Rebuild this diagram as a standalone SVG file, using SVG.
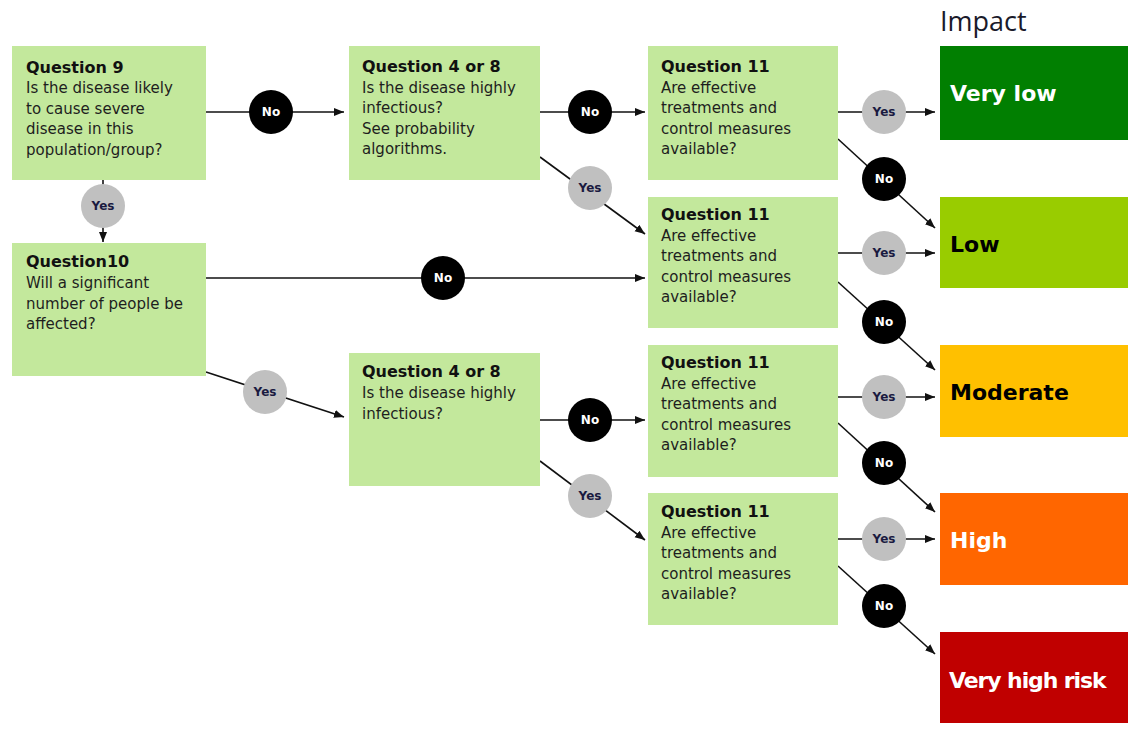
<svg xmlns="http://www.w3.org/2000/svg" width="1128" height="731" viewBox="0 0 1128 731">
<style>
.q{fill:#c3e89c}
.t{font-family:"DejaVu Sans",Verdana,sans-serif;font-size:15px;fill:#1e1e1e}
.tb{font-family:"DejaVu Sans",Verdana,sans-serif;font-size:16px;font-weight:bold;fill:#111}
.imp{font-family:"DejaVu Sans",Verdana,sans-serif;font-weight:bold;font-size:22px}
.ln{stroke:#111;stroke-width:1.6;fill:none}
.no{fill:#000}
.yes{fill:#c0c0c0}
.lno{font-family:"DejaVu Sans",Verdana,sans-serif;font-size:12px;font-weight:bold;fill:#fff;text-anchor:middle}
.lyes{font-family:"DejaVu Sans",Verdana,sans-serif;font-size:12px;font-weight:bold;fill:#1a1a40;text-anchor:middle}
</style>
<defs>
<marker id="ar" markerUnits="userSpaceOnUse" markerWidth="10" markerHeight="10" viewBox="0 0 10 10" refX="10" refY="5" orient="auto">
<path d="M0,1 L10,5 L0,9 Z" fill="#111"/>
</marker>
</defs>
<rect width="1128" height="731" fill="#fff"/>
<text x="940" y="31" font-family="'Open Sans','DejaVu Sans',sans-serif" font-size="27" fill="#1a1a2a">Impact</text>

<g id="connectors">
<line class="ln" x1="206" y1="112" x2="344" y2="112" marker-end="url(#ar)"/>
<line class="ln" x1="103" y1="180" x2="103" y2="242" marker-end="url(#ar)"/>
<line class="ln" x1="206" y1="278" x2="645" y2="278" marker-end="url(#ar)"/>
<line class="ln" x1="206" y1="372" x2="344" y2="417" marker-end="url(#ar)"/>
<line class="ln" x1="540" y1="112" x2="645" y2="112" marker-end="url(#ar)"/>
<line class="ln" x1="540" y1="157" x2="645" y2="234" marker-end="url(#ar)"/>
<line class="ln" x1="540" y1="420" x2="645" y2="420" marker-end="url(#ar)"/>
<line class="ln" x1="540" y1="461" x2="645" y2="540" marker-end="url(#ar)"/>
<line class="ln" x1="838" y1="112" x2="935" y2="112" marker-end="url(#ar)"/>
<line class="ln" x1="838" y1="139" x2="935" y2="228" marker-end="url(#ar)"/>
<line class="ln" x1="838" y1="253" x2="935" y2="253" marker-end="url(#ar)"/>
<line class="ln" x1="838" y1="282" x2="935" y2="370" marker-end="url(#ar)"/>
<line class="ln" x1="838" y1="397" x2="935" y2="397" marker-end="url(#ar)"/>
<line class="ln" x1="838" y1="423" x2="935" y2="512" marker-end="url(#ar)"/>
<line class="ln" x1="838" y1="539" x2="935" y2="539" marker-end="url(#ar)"/>
<line class="ln" x1="838" y1="566" x2="935" y2="654" marker-end="url(#ar)"/>

<circle class="no" cx="271" cy="112" r="22"/><text class="lno" x="271" y="116">No</text>
<circle class="yes" cx="103" cy="206" r="22"/><text class="lyes" x="103" y="210">Yes</text>
<circle class="no" cx="443" cy="278" r="22"/><text class="lno" x="443" y="282">No</text>
<circle class="yes" cx="265" cy="392" r="22"/><text class="lyes" x="265" y="396">Yes</text>
<circle class="no" cx="590" cy="112" r="22"/><text class="lno" x="590" y="116">No</text>
<circle class="yes" cx="590" cy="188" r="22"/><text class="lyes" x="590" y="192">Yes</text>
<circle class="no" cx="590" cy="420" r="22"/><text class="lno" x="590" y="424">No</text>
<circle class="yes" cx="590" cy="496" r="22"/><text class="lyes" x="590" y="500">Yes</text>
<circle class="yes" cx="884" cy="112" r="22"/><text class="lyes" x="884" y="116">Yes</text>
<circle class="no" cx="884" cy="179" r="22"/><text class="lno" x="884" y="183">No</text>
<circle class="yes" cx="884" cy="253" r="22"/><text class="lyes" x="884" y="257">Yes</text>
<circle class="no" cx="884" cy="322" r="22"/><text class="lno" x="884" y="326">No</text>
<circle class="yes" cx="884" cy="397" r="22"/><text class="lyes" x="884" y="401">Yes</text>
<circle class="no" cx="884" cy="463" r="22"/><text class="lno" x="884" y="467">No</text>
<circle class="yes" cx="884" cy="539" r="22"/><text class="lyes" x="884" y="543">Yes</text>
<circle class="no" cx="884" cy="606" r="22"/><text class="lno" x="884" y="610">No</text>
</g>

<g id="q9">
<rect class="q" x="12" y="46" width="194" height="134"/>
<text class="tb" x="26" y="73">Question 9</text>
<text class="t" x="26" y="93">Is the disease likely</text>
<text class="t" x="26" y="113.5">to cause severe</text>
<text class="t" x="26" y="134">disease in this</text>
<text class="t" x="26" y="154.5">population/group?</text>
</g>

<g id="q10">
<rect class="q" x="12" y="243" width="194" height="133"/>
<text class="tb" x="26" y="267">Question10</text>
<text class="t" x="26" y="288">Will a significant</text>
<text class="t" x="26" y="308.5">number of people be</text>
<text class="t" x="26" y="329">affected?</text>
</g>

<g id="q48a">
<rect class="q" x="349" y="46" width="191" height="134"/>
<text class="tb" x="362" y="72">Question 4 or 8</text>
<text class="t" x="362" y="92.5">Is the disease highly</text>
<text class="t" x="362" y="113">infectious?</text>
<text class="t" x="362" y="133.5">See probability</text>
<text class="t" x="362" y="154">algorithms.</text>
</g>

<g id="q48b">
<rect class="q" x="349" y="353" width="191" height="133"/>
<text class="tb" x="362" y="377">Question 4 or 8</text>
<text class="t" x="362" y="398">Is the disease highly</text>
<text class="t" x="362" y="418.5">infectious?</text>
</g>

<g id="q11a">
<rect class="q" x="648" y="46" width="190" height="134"/>
<text class="tb" x="661" y="72">Question 11</text>
<text class="t" x="661" y="92.5">Are effective</text>
<text class="t" x="661" y="113">treatments and</text>
<text class="t" x="661" y="133.5">control measures</text>
<text class="t" x="661" y="154">available?</text>
</g>

<g id="q11b">
<rect class="q" x="648" y="197" width="190" height="131"/>
<text class="tb" x="661" y="220">Question 11</text>
<text class="t" x="661" y="240.5">Are effective</text>
<text class="t" x="661" y="261">treatments and</text>
<text class="t" x="661" y="281.5">control measures</text>
<text class="t" x="661" y="302">available?</text>
</g>

<g id="q11c">
<rect class="q" x="648" y="345" width="190" height="132"/>
<text class="tb" x="661" y="368">Question 11</text>
<text class="t" x="661" y="388.5">Are effective</text>
<text class="t" x="661" y="409">treatments and</text>
<text class="t" x="661" y="429.5">control measures</text>
<text class="t" x="661" y="450">available?</text>
</g>

<g id="q11d">
<rect class="q" x="648" y="493" width="190" height="132"/>
<text class="tb" x="661" y="517">Question 11</text>
<text class="t" x="661" y="537.5">Are effective</text>
<text class="t" x="661" y="558">treatments and</text>
<text class="t" x="661" y="578.5">control measures</text>
<text class="t" x="661" y="599">available?</text>
</g>

<g id="verylow">
<rect x="940" y="46" width="188" height="94" fill="#017f01"/>
<text class="imp" x="950" y="101" fill="#fff">Very low</text>
</g>
<g id="low">
<rect x="940" y="197" width="188" height="91" fill="#99cc00"/>
<text class="imp" x="950" y="252" fill="#000">Low</text>
</g>
<g id="moderate">
<rect x="940" y="345" width="188" height="92" fill="#ffc000"/>
<text class="imp" x="950" y="400" fill="#000">Moderate</text>
</g>
<g id="high">
<rect x="940" y="493" width="188" height="92" fill="#ff6600"/>
<text class="imp" x="950" y="548" fill="#fff">High</text>
</g>
<g id="veryhigh">
<rect x="940" y="632" width="188" height="91" fill="#c00000"/>
<text class="imp" x="949" y="688" fill="#fff" font-size="20" letter-spacing="-1.1">Very high risk</text>
</g>
</svg>
